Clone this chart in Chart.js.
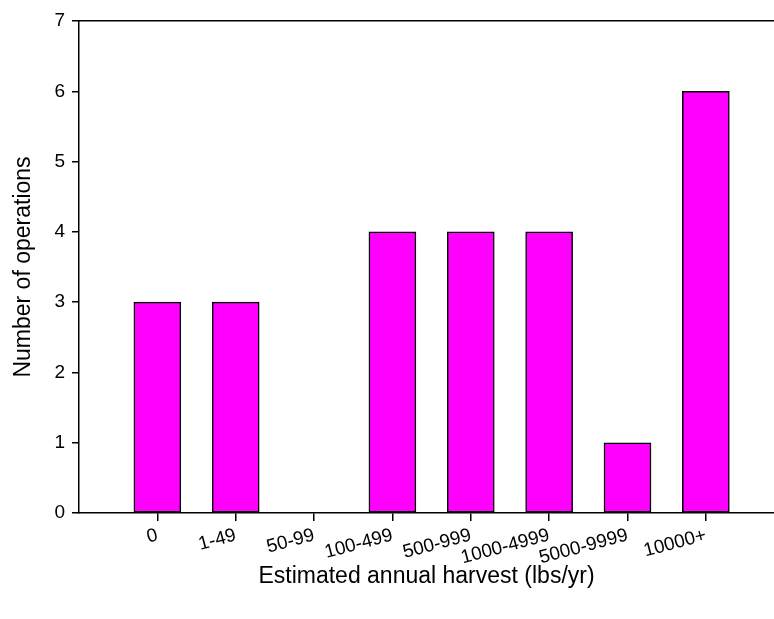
<!DOCTYPE html>
<html>
<head>
<meta charset="utf-8">
<script src="https://cdn.jsdelivr.net/npm/chart.js@4"></script>
<style>
  html, body { margin: 0; padding: 0; background: #fff; overflow: hidden; }
  #wrap { width: 774px; height: 619px; position: relative; }
</style>
</head>
<body>
<div id="wrap"><canvas id="c"></canvas></div>
<script>
// harvest categories and counts
const categories = ['0', '1-49', '50-99', '100-499', '500-999', '1000-4999', '5000-9999', '10000+'];
const operations = [3, 3, 0, 4, 4, 4, 1, 6];
const yTicks = [0, 1, 2, 3, 4, 5, 6, 7];

const points = categories.map((c, i) => ({ x: i + 1, y: operations[i] }));
const font = 'Liberation Sans, Arial, sans-serif';

new Chart(document.getElementById('c'), {
    type: 'bar',
    data: {
        datasets: [{
            data: points,
            backgroundColor: '#ff00ff',
            borderColor: '#000',
            borderWidth: 1.5,
            borderSkipped: false,
            barThickness: 47
        }]
    },
    options: {
        responsive: true,
        maintainAspectRatio: false,
        animation: false,
        layout: { padding: { top: 21, right: 0, left: 0, bottom: 0 } },
        plugins: { legend: { display: false }, tooltip: { enabled: false } },
        scales: {
            x: {
                type: 'linear',
                min: 0,
                max: 8.87,
                offset: false,
                afterBuildTicks: (s) => { s.ticks = categories.map((c, i) => ({ value: i + 1 })); },
                afterFit: (s) => { s.height = 106; },
                ticks: {
                    autoSkip: false,
                    maxRotation: 15,
                    minRotation: 15,
                    color: '#000',
                    font: { family: font, size: 19 },
                    padding: 3,
                    callback: (v) => categories[v - 1] || ''
                },
                grid: { offset: false, drawOnChartArea: false, tickLength: 8, color: '#000', lineWidth: 1.5 },
                border: { color: '#000', width: 1.5 },
                title: {
                    display: true,
                    text: 'Estimated annual harvest (lbs/yr)',
                    color: '#000',
                    font: { family: font, size: 23 },
                    padding: { top: 0, bottom: 29 }
                }
            },
            x2: {
                type: 'linear',
                position: 'top',
                min: 0,
                max: 8.87,
                offset: false,
                ticks: { display: false },
                grid: { display: false },
                border: { color: '#000', width: 1.5 },
                afterFit: (s) => { s.height = 0; }
            },
            y: {
                min: 0,
                max: 7,
                afterBuildTicks: (s) => { s.ticks = yTicks.map(v => ({ value: v })); },
                afterFit: (s) => { s.width = 79; },
                ticks: {
                    color: '#000',
                    font: { family: font, size: 19 },
                    padding: 7
                },
                grid: { drawOnChartArea: false, tickLength: 7, color: '#000', lineWidth: 1.5 },
                border: { color: '#000', width: 1.5 },
                title: {
                    display: true,
                    text: 'Number of operations',
                    color: '#000',
                    font: { family: font, size: 23 },
                    padding: { top: 10, bottom: 0 }
                }
            }
        }
    }
});
</script>
</body>
</html>
